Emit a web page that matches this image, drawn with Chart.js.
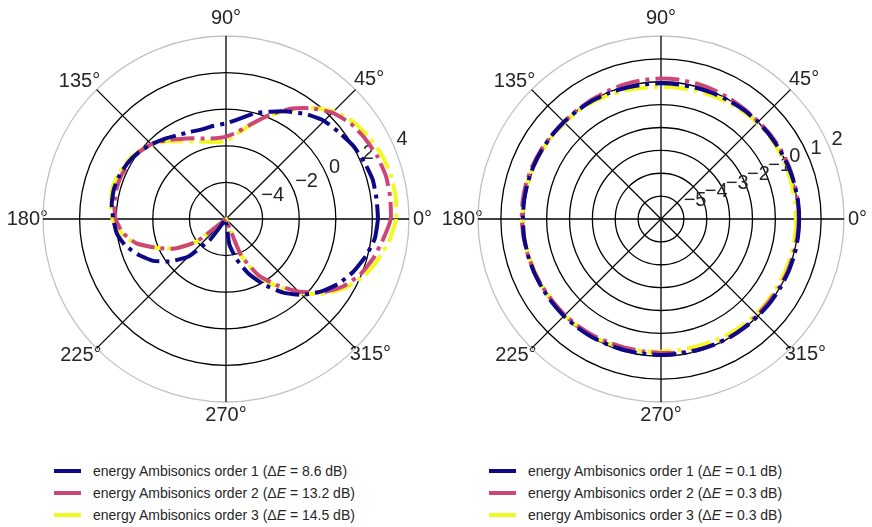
<!DOCTYPE html>
<html>
<head>
<meta charset="utf-8">
<script src="https://cdn.jsdelivr.net/npm/chart.js@4.4.1/dist/chart.umd.min.js"></script>
<style>
  html, body { margin: 0; padding: 0; background: #fff; }
  body { width: 872px; height: 527px; position: relative; overflow: hidden; font-family: "Liberation Sans", Arial, sans-serif; }
  .plot { position: absolute; top: 0; width: 440px; height: 430px; }
  .legend { position: absolute; top: 460px; font-size: 14px; color: #262626; }
  .legend .item { display: flex; align-items: center; height: 22px; white-space: nowrap; }
  .legend .swatch { display: inline-block; width: 27px; height: 4px; margin-right: 12px; }
</style>
</head>
<body>
<div class="plot" style="left:0px"><canvas id="leftPlot"></canvas></div>
<div class="plot" style="left:435px"><canvas id="rightPlot"></canvas></div>
<div class="legend" id="leftLegend" style="left:54px"></div>
<div class="legend" id="rightLegend" style="left:489px"></div>
<script>
// angle of each sample, degrees, counter-clockwise from 0° (east)
const angles = [0, 7.5, 15, 22.5, 30, 37.5, 45, 52.5, 60, 67.5, 75, 82.5,
  90, 97.5, 105, 112.5, 120, 127.5, 135, 142.5, 150, 157.5, 165, 172.5,
  180, 187.5, 195, 202.5, 210, 217.5, 225, 232.5, 240, 247.5, 255, 262.5,
  270, 277.5, 285, 292.5, 300, 307.5, 315, 322.5, 330, 337.5, 345, 352.5];
const angleTicks = [0, 45, 90, 135, 180, 225, 270, 315];

// left plot (dB)
const leftOrder1 = [2.3, 2.3, 2.3, 2.17, 2.02, 1.78, 1.58, 1.22, 0.78, 0.35, -0.02, -0.48,
  -0.77, -0.86, -0.93, -0.85, -0.71, -0.48, -0.23, 0.0, 0.18, 0.29, 0.34, 0.3,
  0.16, 0.02, -0.32, -0.85, -1.42, -2.2, -3.1, -4.6, -6, -6, -6, -6,
  -6, -4.6, -3.7, -2.76, -1.86, -0.95, -0.13, 0.52, 1.09, 1.53, 1.9, 2.2];
const leftOrder2 = [3.0, 3.05, 3.05, 2.95, 2.78, 2.58, 2.22, 1.63, 0.95, 0.14, -0.63, -1.2,
  -1.5, -1.55, -1.45, -1.23, -0.95, -0.58, -0.22, 0.0, 0.12, 0.19, 0.21, 0.15,
  0.03, -0.3, -0.9, -1.88, -2.77, -3.95, -6, -6, -6, -6, -6, -6,
  -6, -6, -6, -3.85, -2.45, -1.45, -0.4, 0.6, 1.38, 1.93, 2.33, 2.65];
const leftOrder3 = [3.3, 3.35, 3.33, 3.2, 3.0, 2.75, 2.33, 1.66, 0.9, 0.1, -0.65, -1.3,
  -1.75, -1.75, -1.63, -1.4, -1.1, -0.65, -0.27, 0.05, 0.25, 0.38, 0.43, 0.35,
  0.2, -0.22, -0.85, -1.9, -2.78, -3.98, -6, -6, -6, -6, -6, -6,
  -6, -6, -6, -3.85, -2.35, -1.32, -0.28, 0.72, 1.52, 2.15, 2.6, 3.0];

// right plot (dB)
const rightOrder1 = [0.04, 0.04, 0.03, 0.02, 0.01, 0.0, 0.0, -0.01, -0.03, -0.05, -0.06, -0.07,
  -0.07, -0.07, -0.06, -0.04, -0.02, -0.01, 0.0, 0.01, 0.02, 0.03, 0.04, 0.04,
  0.04, 0.04, 0.03, 0.02, 0.01, 0.0, 0.0, -0.01, -0.02, -0.04, -0.05, -0.06,
  -0.06, -0.06, -0.05, -0.04, -0.02, -0.01, 0.0, 0.01, 0.02, 0.03, 0.04, 0.04];
const rightOrder2 = [0.02, 0.03, 0.04, 0.05, 0.05, 0.04, 0.02, 0.03, 0.06, 0.09, 0.12, 0.14,
  0.14, 0.13, 0.1, 0.06, 0.03, 0.01, 0.0, 0.02, 0.05, 0.08, 0.1, 0.1,
  0.09, 0.06, 0.03, 0.0, -0.03, -0.05, -0.06, -0.08, -0.11, -0.14, -0.16, -0.16,
  -0.14, -0.1, -0.06, -0.03, -0.02, -0.03, -0.05, -0.05, -0.03, -0.01, 0.0, 0.01];
const rightOrder3 = [-0.1, -0.1, -0.09, -0.07, -0.05, -0.04, -0.05, -0.08, -0.12, -0.16, -0.19, -0.21,
  -0.22, -0.21, -0.18, -0.13, -0.08, -0.05, -0.04, -0.03, 0.0, 0.03, 0.05, 0.06,
  0.05, 0.03, 0.0, -0.02, -0.04, -0.05, -0.06, -0.07, -0.08, -0.1, -0.13, -0.17,
  -0.2, -0.22, -0.22, -0.2, -0.17, -0.14, -0.12, -0.12, -0.12, -0.11, -0.1, -0.1];

const leftTicks = [-6, -4, -2, 0, 2, 4];
const rightTicks = [-6, -5, -4, -3, -2, -1, 0, 1, 2];

const leftNames = ['energy Ambisonics order 1 (ΔE = 8.6 dB)',
  'energy Ambisonics order 2 (ΔE = 13.2 dB)',
  'energy Ambisonics order 3 (ΔE = 14.5 dB)'];
const rightNames = ['energy Ambisonics order 1 (ΔE = 0.1 dB)',
  'energy Ambisonics order 2 (ΔE = 0.3 dB)',
  'energy Ambisonics order 3 (ΔE = 0.3 dB)'];

const colors = ['#0d0887', '#cc4778', '#f0f921'];

Chart.defaults.font.family = '"Liberation Sans", Arial, sans-serif';

// radar goes clockwise from its start, so walk the angles backwards
const order = angles.map((_, i) => (angles.length - i) % angles.length);

// nudges so the degree labels sit where they do in the picture
const labelPad = {'0°': 4, '45°': -2, '90°': 6, '135°': -5, '180°': -5, '225°': -7, '270°': 1, '315°': -8};

function fmt(v) {
  return v < 0 ? '\u2212' + Math.abs(v) : String(v);
}

// radial tick labels at 22.5°, like matplotlib
const tickLabels = {
  id: 'tickLabels',
  beforeDatasetsDraw(chart) {
    const scale = chart.scales.r;
    const ctx = chart.ctx;
    const a = 22.5 * Math.PI / 180;
    ctx.save();
    ctx.font = '20px "Liberation Sans", Arial, sans-serif';
    ctx.fillStyle = '#262626';
    ctx.textAlign = 'left';
    ctx.textBaseline = 'alphabetic';
    scale.ticks.forEach(t => {
      if (t.value === scale.min) return;
      const d = scale.getDistanceFromCenterForValue(t.value);
      const x = scale.xCenter + d * Math.cos(a);
      const y = scale.yCenter - d * Math.sin(a);
      ctx.fillText(fmt(t.value), x + 1.5, y - 4);
    });
    ctx.restore();
  }
};

// legend as html so it can sit under the plot like the original
const htmlLegend = {
  id: 'htmlLegend',
  afterUpdate(chart, args, opts) {
    const box = document.getElementById(opts.containerID);
    box.innerHTML = '';
    chart.options.plugins.legend.labels.generateLabels(chart).forEach(item => {
      const row = document.createElement('div');
      row.className = 'item';
      const sw = document.createElement('span');
      sw.className = 'swatch';
      sw.style.background = item.strokeStyle;
      const txt = document.createElement('span');
      txt.innerHTML = item.text.replace('ΔE', 'Δ<i>E</i>');
      row.append(sw, txt);
      box.append(row);
    });
  }
};

function makePolar(canvasId, legendId, series, names, ticks) {
  const rMin = ticks[0];
  const rMax = ticks[ticks.length - 1];
  return new Chart(document.getElementById(canvasId), {
    type: 'radar',
    data: {
      labels: order.map(k => angles[k]),
      datasets: series.map((s, i) => ({
        label: names[i],
        data: order.map(k => s[k]),
        borderColor: colors[i],
        backgroundColor: 'transparent',
        borderWidth: 4,
        borderDash: [24, 6, 4, 6],
        borderJoinStyle: 'round',
        fill: false,
        tension: 0.15,
        pointRadius: 0,
        pointHitRadius: 0
      }))
    },
    options: {
      responsive: true,
      maintainAspectRatio: false,
      animation: false,
      events: [],
      layout: { padding: { top: 4 } },
      plugins: {
        legend: { display: false },
        tooltip: { enabled: false },
        htmlLegend: { containerID: legendId }
      },
      scales: {
        r: {
          min: rMin,
          max: rMax,
          startAngle: 90,
          ticks: { stepSize: ticks[1] - ticks[0], display: false },
          grid: {
            circular: true,
            color: c => (c.tick && c.tick.value === rMax) ? '#c2c2c2' : '#000000',
            lineWidth: 1.3
          },
          angleLines: {
            display: true,
            color: '#000000',
            lineWidth: c => c.label ? 1.3 : 0
          },
          pointLabels: {
            color: '#262626',
            callback: v => angleTicks.includes(v) ? v + '°' : '',
            font: c => c.label ? { size: 20 } : { size: 1, lineHeight: 0 },
            padding: c => labelPad[c.label] !== undefined ? labelPad[c.label] : 0
          }
        }
      }
    },
    plugins: [tickLabels, htmlLegend]
  });
}

makePolar('leftPlot', 'leftLegend', [leftOrder1, leftOrder2, leftOrder3], leftNames, leftTicks);
makePolar('rightPlot', 'rightLegend', [rightOrder1, rightOrder2, rightOrder3], rightNames, rightTicks);
</script>
</body>
</html>
